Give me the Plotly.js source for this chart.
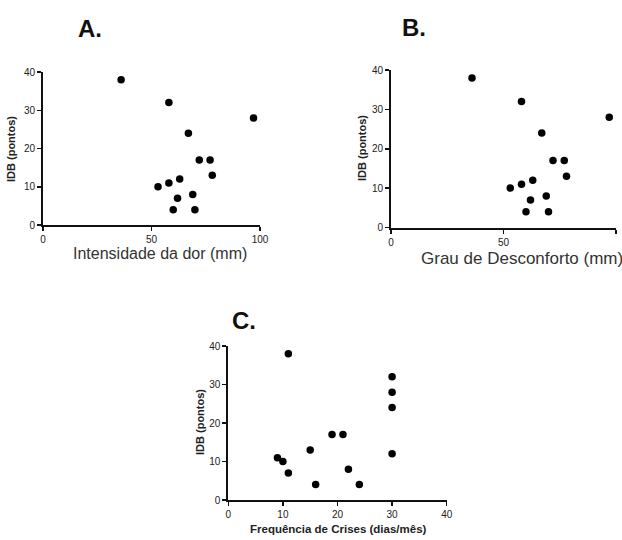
<!DOCTYPE html>
<html>
<head>
<meta charset="utf-8">
<script src="https://cdn.plot.ly/plotly-3.0.1.min.js"></script>
<style>html,body{margin:0;padding:0;background:#fff}#chart{width:622px;height:540px}</style>
</head>
<body>
<div id="chart"></div>
<script>
// Panel A: Intensidade da dor (mm) vs IDB (pontos)
const intensidadeDor = [36, 58, 97, 67, 72, 77, 78, 63, 53, 58, 62, 69, 60, 70];
const idbA = [38, 32, 28, 24, 17, 17, 13, 12, 10, 11, 7, 8, 4, 4];
// Panel B: Grau de Desconforto (mm) vs IDB (pontos)
const grauDesconforto = [36, 58, 97, 67, 72, 77, 78, 63, 53, 58, 62, 69, 60, 70];
const idbB = [38, 32, 28, 24, 17, 17, 13, 12, 10, 11, 7, 8, 4, 4];
// Panel C: Frequência de Crises (dias/mês) vs IDB (pontos)
const frequenciaCrises = [11, 30, 30, 30, 19, 21, 15, 30, 9, 10, 22, 11, 16, 24];
const idbC = [38, 32, 28, 24, 17, 17, 13, 12, 11, 10, 8, 7, 4, 4];

const xTicksAB = [0, 50, 100];
const xTicksC = [0, 10, 20, 30, 40];
const yTicks = [0, 10, 20, 30, 40];

const W = 622, H = 540;
const px = v => v / W;
const py = v => 1 - v / H;

const marker = {color: '#000', size: 7.5, symbol: 'circle'};
const traces = [
  {x: intensidadeDor, y: idbA, mode: 'markers', type: 'scatter', marker, xaxis: 'x', yaxis: 'y', cliponaxis: false},
  {x: grauDesconforto, y: idbB, mode: 'markers', type: 'scatter', marker, xaxis: 'x2', yaxis: 'y2', cliponaxis: false},
  {x: frequenciaCrises, y: idbC, mode: 'markers', type: 'scatter', marker, xaxis: 'x3', yaxis: 'y3', cliponaxis: false}
];

const tickFont = {family: 'Liberation Sans, Arial, sans-serif', size: 10, color: '#222'};
function xax(domain, range, ticks, anchor) {
  return {domain, range, anchor, tickmode: 'array', tickvals: ticks, ticktext: ticks.map(String),
    showline: true, linecolor: '#111', linewidth: 2, ticks: 'outside', ticklen: 4, tickwidth: 1.5,
    tickcolor: '#111', showgrid: false, zeroline: false, tickfont: tickFont, fixedrange: true};
}
function yax(domain, anchor) {
  return {domain, range: [0, 40], anchor, tickmode: 'array', tickvals: yTicks, ticktext: yTicks.map(String),
    showline: true, linecolor: '#111', linewidth: 2, ticks: 'outside', ticklen: 4, tickwidth: 1.5,
    tickcolor: '#111', showgrid: false, zeroline: false, tickfont: tickFont, fixedrange: true};
}

const letterFont = {family: 'Liberation Sans, Arial, sans-serif', size: 24, color: '#111', weight: 'bold'};
const ytFont = {family: 'Liberation Sans, Arial, sans-serif', size: 11, color: '#222', weight: 'bold'};
const xtFont = {family: 'Liberation Sans, Arial, sans-serif', size: 16, color: '#333'};
const xtFontC = {family: 'Liberation Sans, Arial, sans-serif', size: 11.5, color: '#222', weight: 'bold'};

function ann(text, x, y, font, angle) {
  return {text, x: px(x), y: py(y), xref: 'paper', yref: 'paper', xanchor: 'center', yanchor: 'middle',
    showarrow: false, font, textangle: angle || 0};
}

const layout = {
  width: W, height: H,
  margin: {l: 0, r: 0, t: 0, b: 0},
  paper_bgcolor: '#fff', plot_bgcolor: '#fff',
  showlegend: false,
  xaxis: xax([px(43), px(260)], [0, 100], xTicksAB, 'y'),
  yaxis: yax([py(225), py(72)], 'x'),
  xaxis2: xax([px(391), px(616)], [0, 100], xTicksAB, 'y2'),
  yaxis2: yax([py(227.5), py(70)], 'x2'),
  xaxis3: xax([px(228.3), px(446.7)], [0, 40], xTicksC, 'y3'),
  yaxis3: yax([py(500), py(346)], 'x3'),
  annotations: [
    ann('A.', 90, 29, letterFont),
    ann('B.', 414, 28, letterFont),
    ann('C.', 244, 320, letterFont),
    ann('IDB (pontos)', 11, 149, ytFont, -90),
    ann('IDB (pontos)', 362, 148, ytFont, -90),
    ann('IDB (pontos)', 200, 422, ytFont, -90),
    ann('Intensidade da dor (mm)', 160, 253, xtFont),
    ann('Grau de Desconforto (mm)', 522, 258, {...xtFont, size: 17}),
    ann('Frequência de Crises (dias/mês)', 338, 529, xtFontC)
  ]
};

Plotly.newPlot('chart', traces, layout, {displayModeBar: false, staticPlot: true});
</script>
</body>
</html>
